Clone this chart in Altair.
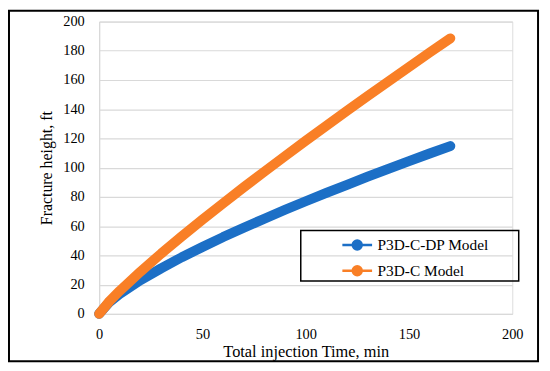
import altair as alt
import pandas as pd

time_min = [0, 5, 10, 20, 30, 40, 50, 60, 70, 80, 90, 100, 110, 120, 130, 140, 150, 160, 170]
p3d_c_dp = [0, 8.1, 13.6, 23.0, 31.1, 38.7, 45.7, 52.5, 58.9, 65.1, 71.2, 77.0, 82.8, 88.3, 93.8, 99.2, 104.5, 109.7, 114.8]
p3d_c = [0, 8.6, 15.7, 28.8, 41.2, 53.0, 64.5, 75.6, 86.6, 97.3, 107.9, 118.4, 128.7, 138.9, 149.0, 159.0, 168.9, 178.8, 188.5]
series_names = ["P3D-C-DP Model", "P3D-C Model"]
series_colors = ["#1c6fc6", "#f97f26"]
x_ticks = [0, 50, 100, 150, 200]
y_ticks = [0, 20, 40, 60, 80, 100, 120, 140, 160, 180, 200]

rows = []
for name, vals in zip(series_names, [p3d_c_dp, p3d_c]):
    for t, h in zip(time_min, vals):
        rows.append({"time": t, "height": h, "series": name})
df = pd.DataFrame(rows)

FONT = "Liberation Serif"
sym_path = ("M-1.5,0H1.5"
            "M0.45,0A0.45,0.45,0,1,1,-0.45,0A0.45,0.45,0,1,1,0.45,0"
            "M0.25,0A0.25,0.25,0,1,1,-0.25,0A0.25,0.25,0,1,1,0.25,0"
            "M0.08,0A0.08,0.08,0,1,1,-0.08,0A0.08,0.08,0,1,1,0.08,0")

lines = alt.Chart(df).mark_line(strokeWidth=10, strokeCap="round", strokeJoin="round").encode(
    x=alt.X("time:Q", scale=alt.Scale(domain=[0, 200], nice=False),
            axis=alt.Axis(values=x_ticks, title="Total injection Time, min", grid=False,
                          ticks=False, domain=False, labelPadding=14, titlePadding=3,
                          labelFlush=False, labelOverlap=False,
                          labelFontSize=14.5, titleFontSize=16.5, labelFont=FONT, titleFont=FONT,
                          labelColor="#000", titleColor="#000", titleFontWeight="normal")),
    y=alt.Y("height:Q", scale=alt.Scale(domain=[0, 200], nice=False),
            axis=alt.Axis(values=y_ticks, title="Fracture height, ft", grid=True,
                          gridColor="#d9d9d9", gridWidth=1.2, ticks=False,
                          domain=True, domainColor="#d9d9d9", domainWidth=1.2,
                          labelPadding=15, titlePadding=8, labelFlush=False, labelOverlap=False,
                          labelFontSize=14.5, titleFontSize=16, labelFont=FONT, titleFont=FONT,
                          labelColor="#000", titleColor="#000", titleFontWeight="normal")),
    color=alt.Color("series:N", scale=alt.Scale(domain=series_names, range=series_colors),
                    sort=series_names,
                    legend=alt.Legend(title=None, orient="none", legendX=249, legendY=214,
                                      symbolType=sym_path, symbolSize=400, symbolStrokeWidth=2.5,
                                      labelFont=FONT, labelFontSize=15.5, labelColor="#000",
                                      labelOffset=9, rowPadding=5, padding=0)),
    order=alt.Order("time:Q"),
)

legend_box = alt.Chart(pd.DataFrame({"a": [0]})).mark_rect(
    fill=None, stroke="#000", strokeWidth=1.5
).encode(x=alt.value(203.5), x2=alt.value(423.5), y=alt.value(211), y2=alt.value(262))

frame = alt.Chart(pd.DataFrame({"a": [0]})).mark_rect(
    fill=None, stroke="#000", strokeWidth=2, clip=False
).encode(x=alt.value(-91), x2=alt.value(443), y=alt.value(-11), y2=alt.value(343))

chart = alt.layer(lines, legend_box, frame).properties(
    width=417, height=295,
    autosize=alt.AutoSizeParams(type="none"),
    padding={"left": 92, "top": 12, "right": 30, "bottom": 50},
).configure_view(stroke=None).configure(background="white")

chart.save("out.html", embed_options={"renderer": "svg", "actions": False})
